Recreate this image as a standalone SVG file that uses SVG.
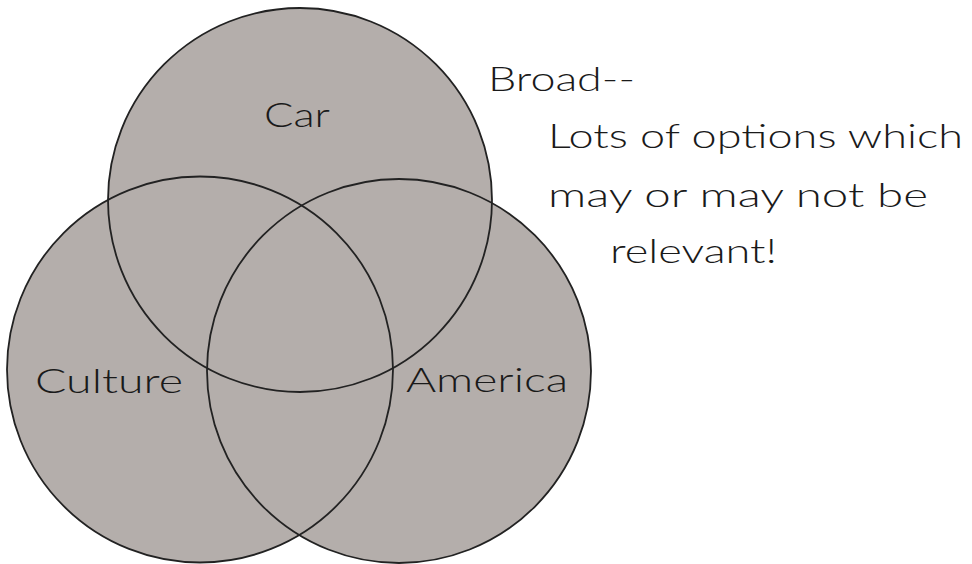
<svg xmlns="http://www.w3.org/2000/svg" width="972" height="564" viewBox="0 0 972 564">
<style>
.fill{fill:#b4aeab;stroke:none}
.line{fill:none;stroke:#222;stroke-width:1.8}
.t{font-family:Lato,"Open Sans","DejaVu Sans",sans-serif;font-weight:300;font-size:34px;fill:#1a1a1a}
</style>
<rect width="972" height="564" fill="#fff"/>
<g id="fills">
<circle class="fill" cx="300" cy="200" r="192"/>
<circle class="fill" cx="200" cy="369.5" r="193"/>
<circle class="fill" cx="399" cy="371" r="192"/>
</g>
<g id="car">
<circle class="line" cx="300" cy="200" r="192"/>
<text class="t" x="264" y="127" textLength="66" lengthAdjust="spacingAndGlyphs">Car</text>
</g>
<g id="culture">
<circle class="line" cx="200" cy="369.5" r="193"/>
<text class="t" x="35" y="393" textLength="148" lengthAdjust="spacingAndGlyphs">Culture</text>
</g>
<g id="america">
<circle class="line" cx="399" cy="371" r="192"/>
<text class="t" x="406" y="392" textLength="162" lengthAdjust="spacingAndGlyphs">America</text>
</g>
<g id="note">
<text class="t" x="488" y="91" textLength="147" lengthAdjust="spacingAndGlyphs">Broad--</text>
<text class="t" x="548" y="148" textLength="415" lengthAdjust="spacingAndGlyphs">Lots of options which</text>
<text class="t" x="548" y="207" textLength="380" lengthAdjust="spacingAndGlyphs">may or may not be</text>
<text class="t" x="610" y="263" textLength="167" lengthAdjust="spacingAndGlyphs">relevant!</text>
</g>
<g id="connectors"/>
</svg>
